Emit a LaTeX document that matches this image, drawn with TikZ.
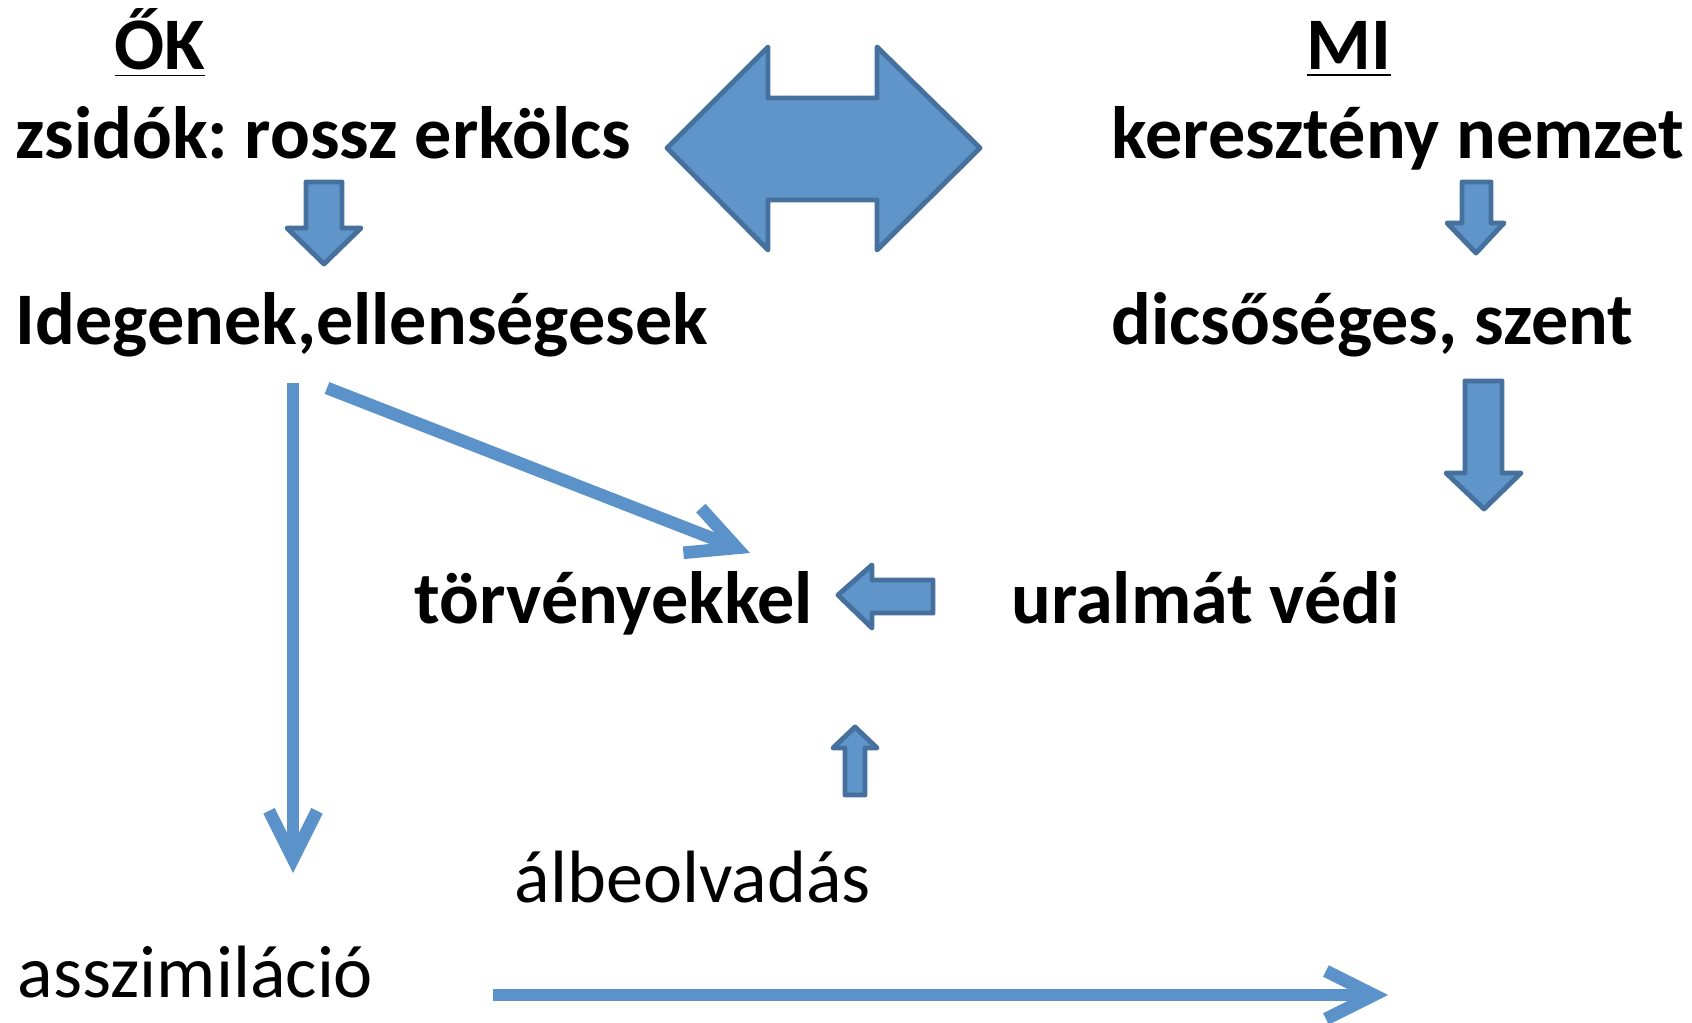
\documentclass[tikz,border=0pt]{standalone}
\usepackage{fontspec}
\setmainfont{Carlito}
\usetikzlibrary{arrows.meta}
\definecolor{5f95c8}{HTML}{5F95C8}
\definecolor{46709e}{HTML}{46709E}
\definecolor{5b92c9}{HTML}{5B92C9}
\frenchspacing

\begin{document}
\begin{tikzpicture}[x=1cm,y=-1cm,
    blk/.style={fill=5f95c8,draw=46709e,line width=1.4pt,line join=round},
    lnk/.style={5b92c9,line width=3.6pt,-{Straight Barb[length=4.8mm,width=4.8mm]}},
    txt/.style={font=\fontsize{21.1}{26}\selectfont\bfseries,inner sep=0,anchor=base west},
    thin/.style={font=\fontsize{21.1}{26}\selectfont,inner sep=0,anchor=base west}]
    \useasboundingbox(0,0)rectangle(16.92,10.23);
    \node[txt,anchor=base](ok)at(1.60,0.70){\underline{ŐK}};
    \node[txt](zsidok)at(0.15,1.59){zsidók: rossz erkölcs};
    \node[txt,anchor=base](mi)at(13.49,0.70){\underline{MI}};
    \node[txt](nemzet)at(11.11,1.59){keresztény nemzet};
    \node[txt](idegen)at(0.15,3.45){Idegenek,ellenségesek};
    \node[txt](dicso)at(11.11,3.45){dicsőséges, szent};
    \node[txt](torveny)at(4.14,6.24){törvényekkel};
    \node[txt](uralmat)at(10.11,6.24){uralmát védi};
    \node[thin](albeolv)at(5.14,9.02){álbeolvadás};
    \node[thin](asszim)at(0.17,9.97){asszimiláció};
    \draw[blk](6.67,1.48)--(7.68,0.47)--(7.68,0.98)--(8.77,0.98)--(8.77,0.47)--(9.80,1.48)
        --(8.77,2.50)--(8.77,2.00)--(7.68,2.00)--(7.68,2.50)--cycle;
    \draw[blk](3.06,1.82)--(3.42,1.82)--(3.42,2.28)--(3.61,2.28)--(3.24,2.64)--(2.87,2.28)--(3.06,2.28)--cycle;
    \draw[blk](14.62,1.82)--(14.91,1.82)--(14.91,2.23)--(15.04,2.23)--(14.76,2.53)--(14.47,2.23)--(14.62,2.23)--cycle;
    \draw[blk](14.65,3.81)--(15.02,3.81)--(15.02,4.73)--(15.21,4.73)--(14.84,5.09)--(14.46,4.73)--(14.65,4.73)--cycle;
    \draw[blk](8.38,5.95)--(8.72,5.65)--(8.72,5.80)--(9.33,5.80)--(9.33,6.13)--(8.72,6.13)--(8.72,6.28)--cycle;
    \draw[blk](8.55,7.27)--(8.77,7.48)--(8.65,7.48)--(8.65,7.95)--(8.45,7.95)--(8.45,7.48)--(8.33,7.48)--cycle;
    \coordinate(V1)at(2.93,3.83);
    \coordinate(V2)at(2.93,8.73);
    \coordinate(D1)at(3.27,3.88);
    \coordinate(D2)at(7.50,5.53);
    \coordinate(H1)at(4.93,9.95);
    \coordinate(H2)at(13.88,9.95);
    \draw[lnk](V1)--(V2);
    \draw[lnk](D1)--(D2);
    \draw[lnk](H1)--(H2);
\end{tikzpicture}
\end{document}
